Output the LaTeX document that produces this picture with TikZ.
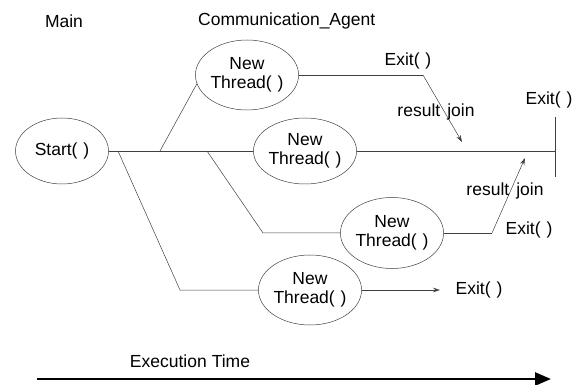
\documentclass[tikz,border=0pt]{standalone}
\usepackage{fontspec}
\setmainfont{Liberation Sans}
\usetikzlibrary{shapes.geometric,arrows.meta}
\begin{document}
\begin{tikzpicture}[x=1pt,y=-1pt,
  every node/.style={font=\fontsize{17.5}{19}\selectfont, inner sep=0pt},
  thread/.style={ellipse, draw=black!75, line width=0.5pt, minimum width=94pt,
    minimum height=70pt, align=center},
  wire/.style={draw=black!75, line width=0.5pt},
  joinarrow/.style={wire, -{Stealth[length=7pt,width=4.5pt]}},
  txt/.style={anchor=center}]
\useasboundingbox (0,0) rectangle (579,385);

% column headings
\node[txt] (hmain) at (64,21) {Main};
\node[anchor=west] (hagent) at (198,21) {Communication\_Agent};

% main thread and the threads it starts
\node[thread, minimum width=93pt, minimum height=66pt] (start) at (62,151) {Start(\,\,)};
\node[thread] (t1) at (247,75) {New\\Thread(\,\,)};
\node[thread, minimum width=95pt, minimum height=66pt] (t2) at (305,151) {New\\Thread(\,\,)};
\node[thread, minimum width=95pt, minimum height=71pt] (t3) at (392,233) {New\\Thread(\,\,)};
\node[thread] (t4) at (310,290) {New\\Thread(\,\,)};

% branch points on the main line
\coordinate (b4) at (118,151);
\coordinate (b1) at (160,151);
\coordinate (b3) at (207,151);
\coordinate (c3) at (263,233);
\coordinate (c4) at (180,290);

\draw[wire] (start.east) -- (t2.west);
\draw[wire] (b1) -- (t1.190);
\draw[wire] (b3) -- (c3) -- (t3.west);
\draw[wire] (b4) -- (c4) -- (t4.west);

% thread 1: exit, then joined into thread 2
\coordinate (e1) at (423,75);
\coordinate (j1) at (462,142);
\draw[wire] (t1.east) -- (e1);
\draw[joinarrow] (e1) -- (j1);
\node[txt] (x1) at (408,61) {Exit(\,\,)};
\node[txt] (r1) at (436,112) {result\hspace{7pt}join};

% thread 2 runs to its own exit
\coordinate (e2) at (555,151);
\coordinate (e2t) at (555,117);
\coordinate (e2b) at (555,177);
\draw[wire] (t2.east) -- (e2);
\draw[wire] (e2t) -- (e2b);
\node[txt] (x2) at (549,100) {Exit(\,\,)};

% thread 3: exit, then joined into thread 2
\coordinate (e3) at (492,233);
\coordinate (j3) at (525,158);
\draw[wire] (t3.east) -- (e3);
\draw[joinarrow] (e3) -- (j3);
\node[txt] (x3) at (529,230) {Exit(\,\,)};
\node[txt] (r3) at (505,191) {result\hspace{7pt}join};

% thread 4 exits on its own
\node[txt] (x4) at (479,290) {Exit(\,\,)};
\coordinate (e4) at (440,290);
\draw[joinarrow] (t4.east) -- (e4);

% time axis
\node[txt] (time) at (190,361) {Execution\hspace{5pt}Time};
\coordinate (ta) at (37,379);
\coordinate (tb) at (551,379);
\draw[line width=2.6pt, -{Triangle[length=16pt,width=13pt]}] (ta) -- (tb);
\end{tikzpicture}
\end{document}
